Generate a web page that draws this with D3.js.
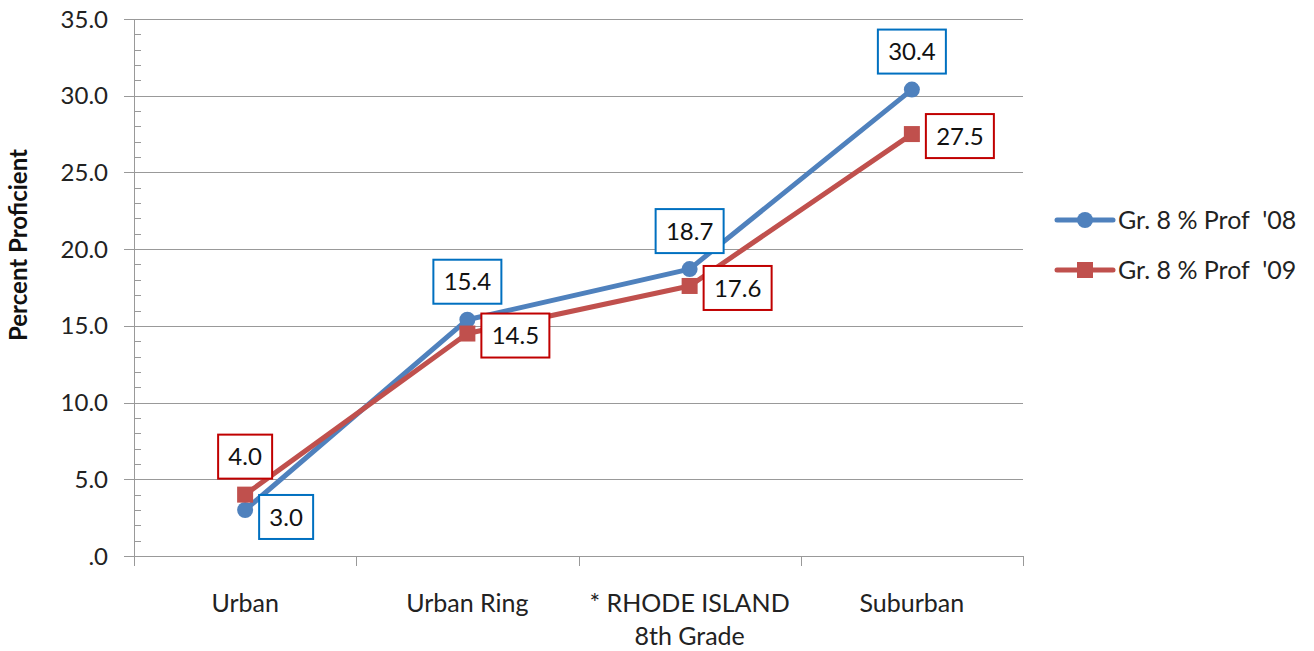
<!DOCTYPE html>
<html>
<head>
<meta charset="utf-8">
<script src="https://cdn.jsdelivr.net/npm/d3@7"></script>
<style>
  body { margin: 0; background: #fff; }
  svg { font-family: Lato, "Open Sans", sans-serif; }
  text { white-space: pre; }
</style>
</head>
<body>
<svg id="chart" width="1314" height="651"></svg>
<script>
// chart data
const categories = ['Urban', 'Urban Ring', '* RHODE ISLAND\n8th Grade', 'Suburban'];
const prof08 = [3.0, 15.4, 18.7, 30.4];
const prof09 = [4.0, 14.5, 17.6, 27.5];
const seriesNames = ["Gr. 8 % Prof  '08", "Gr. 8 % Prof  '09"];
const yTicks = [0, 5, 10, 15, 20, 25, 30, 35];
// where each data label sits relative to its point
const place08 = ['right', 'above', 'above', 'above'];
const place09 = ['above', 'right', 'right', 'right'];

const svg = d3.select('#chart');
const m = { left: 134, right: 1023, top: 19, bottom: 556 };

const x = d3.scaleBand().domain(categories).range([m.left, m.right]);
const y = d3.scaleLinear().domain([0, 35]).range([m.bottom, m.top]);

// gridlines
svg.append('g').selectAll('line').data(yTicks).enter().append('line')
    .attr('x1', m.left - 10).attr('x2', m.right)
    .attr('y1', d => Math.round(y(d)) + 0.5).attr('y2', d => Math.round(y(d)) + 0.5)
    .attr('stroke', '#999').attr('stroke-width', 1);

// minor ticks on y axis
svg.append('g').selectAll('line').data(d3.range(0, 35, 1).filter(d => d % 5 !== 0)).enter().append('line')
    .attr('x1', m.left).attr('x2', m.left + 7)
    .attr('y1', d => Math.round(y(d)) + 0.5).attr('y2', d => Math.round(y(d)) + 0.5)
    .attr('stroke', '#999');

// y axis line
svg.append('line')
    .attr('x1', m.left + 0.5).attr('x2', m.left + 0.5)
    .attr('y1', m.top).attr('y2', m.bottom)
    .attr('stroke', '#999');

// y tick labels
svg.append('g').selectAll('text').data(yTicks).enter().append('text')
    .attr('x', 108).attr('y', d => y(d))
    .attr('dy', '0.36em')
    .attr('text-anchor', 'end')
    .attr('font-size', 24).attr('fill', '#222')
    .text(d => d === 0 ? '.0' : d.toFixed(1));

// category ticks
const edges = categories.map(c => x(c)).concat([m.right]);
svg.append('g').selectAll('line').data(edges).enter().append('line')
    .attr('x1', d => Math.round(d) + 0.5).attr('x2', d => Math.round(d) + 0.5)
    .attr('y1', m.bottom).attr('y2', m.bottom + 10)
    .attr('stroke', '#999');

// category labels
svg.append('g').selectAll('text').data(categories).enter().append('text')
    .attr('x', d => x(d) + x.bandwidth() / 2)
    .attr('y', 612)
    .attr('text-anchor', 'middle')
    .attr('font-size', 25).attr('fill', '#222')
    .each(function (d) {
        const t = d3.select(this);
        d.split('\n').forEach((line, i) => {
            t.append('tspan')
                .attr('x', x(d) + x.bandwidth() / 2)
                .attr('dy', i === 0 ? 0 : 33)
                .text(line);
        });
    });

// y axis title
svg.append('text')
    .attr('transform', 'translate(27,245) rotate(-90)')
    .attr('text-anchor', 'middle')
    .attr('font-size', 24).attr('font-weight', 'bold').attr('fill', '#111')
    .text('Percent Proficient');

const cx = c => x(c) + x.bandwidth() / 2;
const line = d3.line().x(d => cx(d.c)).y(d => y(d.v));

const series = [
    { values: prof08, place: place08, color: '#4F81BD', box: '#0070C0', shape: 'circle' },
    { values: prof09, place: place09, color: '#C0504D', box: '#C00000', shape: 'square' }
];

series.forEach(s => {
    const pts = s.values.map((v, i) => ({ c: categories[i], v: v }));
    svg.append('path')
        .attr('d', line(pts))
        .attr('fill', 'none')
        .attr('stroke', s.color)
        .attr('stroke-width', 5)
        .attr('stroke-linejoin', 'round');
    const g = svg.append('g');
    if (s.shape === 'circle') {
        g.selectAll('circle').data(pts).enter().append('circle')
            .attr('cx', d => cx(d.c)).attr('cy', d => y(d.v))
            .attr('r', 8).attr('fill', s.color);
    } else {
        g.selectAll('rect').data(pts).enter().append('rect')
            .attr('x', d => cx(d.c) - 8).attr('y', d => y(d.v) - 8)
            .attr('width', 16).attr('height', 16).attr('fill', s.color);
    }
});

// data labels (drawn after both lines so boxes sit on top)
series.forEach(s => {
    s.values.forEach((v, i) => {
        const px = cx(categories[i]), py = y(v);
        const txt = v.toFixed(1);
        const w = txt.length > 3 ? 68 : 54, h = 44;
        let bx, by;
        if (s.place[i] === 'above') {
            bx = px - w / 2; by = py - 38 - h / 2;
        } else {
            bx = px + 14; by = py - h / 2 + (v < 5 ? 7 : 2);
        }
        svg.append('rect')
            .attr('x', bx).attr('y', by).attr('width', w).attr('height', h)
            .attr('fill', '#fff').attr('stroke', s.box).attr('stroke-width', 2);
        svg.append('text')
            .attr('x', bx + w / 2).attr('y', by + h / 2)
            .attr('dy', '0.36em').attr('text-anchor', 'middle')
            .attr('font-size', 24).attr('fill', '#111')
            .text(txt);
    });
});

// legend
const legend = svg.append('g');
series.forEach((s, i) => {
    const ly = 220 + i * 50;
    legend.append('line')
        .attr('x1', 1057).attr('x2', 1113).attr('y1', ly).attr('y2', ly)
        .attr('stroke', s.color).attr('stroke-width', 5).attr('stroke-linecap', 'round');
    if (s.shape === 'circle') {
        legend.append('circle').attr('cx', 1085).attr('cy', ly).attr('r', 8).attr('fill', s.color);
    } else {
        legend.append('rect').attr('x', 1077).attr('y', ly - 8).attr('width', 16).attr('height', 16).attr('fill', s.color);
    }
    legend.append('text')
        .attr('x', 1118).attr('y', ly).attr('dy', '0.36em')
        .attr('font-size', 25).attr('fill', '#222')
        .text(seriesNames[i]);
});
</script>
</body>
</html>
